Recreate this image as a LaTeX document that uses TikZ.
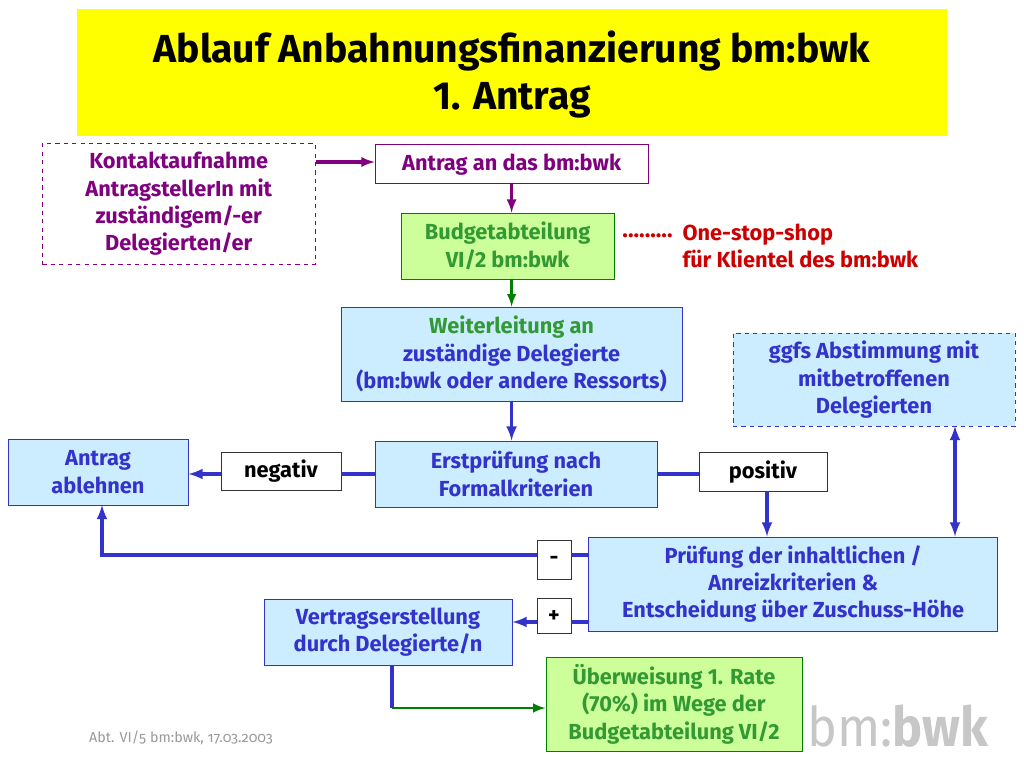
\documentclass[tikz,border=0pt]{standalone}
\usepackage{fontspec}
\setmainfont{Fira Sans}
\newfontfamily\footfont[Numbers=OldStyle]{Fira Sans}
\newfontfamily\logofont[FakeStretch=0.92]{Fira Sans}
\usetikzlibrary{arrows}
\definecolor{dyellow}{HTML}{FFFF00}
\definecolor{dblue}{HTML}{3333CC}
\definecolor{lblue}{HTML}{CCECFF}
\definecolor{dgreen}{HTML}{008000}
\definecolor{tgreen}{HTML}{339933}
\definecolor{lgreen}{HTML}{CCFF99}
\definecolor{dpurple}{HTML}{800080}
\definecolor{dred}{HTML}{CC0000}
\tikzstyle{plain} = [rectangle, inner sep=0pt, align=center, font=\fontsize{15.5}{19.5}\selectfont\bfseries, line width=0.7pt]
\tikzstyle{bluebox} = [plain, draw=dblue, fill=lblue, text=dblue]
\tikzstyle{greenbox} = [plain, draw=dgreen, fill=lgreen, text=tgreen]
\tikzstyle{purplebox} = [plain, draw=dpurple, fill=white, text=dpurple]
\tikzstyle{labelbox} = [plain, draw=black!80, fill=white, text=black]
\tikzstyle{blueline} = [draw=dblue, line width=2.4pt]
\tikzstyle{greenline} = [draw=dgreen, line width=2pt]
\tikzstyle{purpleline} = [draw=dpurple, line width=2.2pt]

\begin{document}
\begin{tikzpicture}
    \useasboundingbox (0,0) rectangle (25.6,-19.2);
    % title
    \node[rectangle, fill=dyellow, minimum width=21.75cm, minimum height=3.175cm] (title) at (12.8,-1.8125) {};
    \node[align=center, inner sep=0pt, font=\fontsize{27.8}{33.4}\selectfont\bfseries] (titletext) at (12.8,-1.87) {Ablauf Anbahnungsfinanzierung bm:bwk\\1. Antrag};
    % boxes
    \node[purplebox, dashed, minimum width=6.82cm, minimum height=3.025cm] (kontakt) at (4.47,-5.1) {Kontaktaufnahme\\AntragstellerIn mit\\zuständigem/-er\\Delegierten/er};
    \node[purplebox, minimum width=6.825cm, minimum height=0.975cm] (antrag) at (12.79,-4.11) {Antrag an das bm:bwk};
    \node[greenbox, minimum width=5.325cm, minimum height=1.65cm] (budget) at (12.69,-6.15) {Budgetabteilung\\VI/2 bm:bwk};
    \node[bluebox, minimum width=8.525cm, minimum height=2.35cm] (weiter) at (12.79,-8.85) {\textcolor{tgreen}{Weiterleitung an}\\zuständige Delegierte\\(bm:bwk oder andere Ressorts)};
    \node[bluebox, dashed, minimum width=7.05cm, minimum height=2.325cm] (ggfs) at (21.85,-9.49) {ggfs Abstimmung mit\\mitbetroffenen\\Delegierten};
    \node[bluebox, minimum width=7.05cm, minimum height=1.65cm] (erst) at (12.9,-11.85) {Erstprüfung nach\\Formalkriterien};
    \node[bluebox, minimum width=4.5cm, minimum height=1.65cm] (ablehnen) at (2.45,-11.8) {Antrag\\ablehnen};
    \node[labelbox, minimum width=3cm, minimum height=0.95cm] (negativ) at (7.025,-11.775) {negativ};
    \node[labelbox, minimum width=3.2cm, minimum height=0.975cm] (positiv) at (19.075,-11.79) {positiv};
    \node[labelbox, minimum width=0.85cm, minimum height=0.975cm] (minus) at (13.85,-14.01) {-};
    \node[labelbox, minimum width=0.85cm, minimum height=0.875cm] (plus) at (13.85,-15.41) {+};
    \node[bluebox, minimum width=10.225cm, minimum height=2.35cm] (pruefung) at (19.83,-14.6) {Prüfung der inhaltlichen /\\Anreizkriterien \&\\Entscheidung über Zuschuss-Höhe};
    \node[bluebox, minimum width=6.2cm, minimum height=1.65cm] (vertrag) at (9.7,-15.8) {Vertragserstellung\\durch Delegierte/n};
    \node[greenbox, minimum width=6.4cm, minimum height=2.35cm] (ueber) at (16.85,-17.6) {Überweisung 1. Rate\\(70\%) im Wege der\\Budgetabteilung VI/2};
    % side notes
    \node[plain, text=dred, anchor=west, font=\fontsize{16.5}{19.5}\selectfont\bfseries] (dots) at (15.55,-5.9) {.........};
    \node[plain, text=dred, align=left, anchor=west] (shop) at (17.05,-6.15) {One-stop-shop\\für Klientel des bm:bwk};
    \node[anchor=west, inner sep=0pt, text=black!40, font=\footfont\fontsize{10.2}{12}\selectfont] (foot) at (2.22,-18.45) {Abt. VI/5 bm:bwk, 17.03.2003};
    \node[anchor=west, inner sep=0pt, text=black!22, font=\logofont\fontsize{39}{44}\selectfont] (logo) at (20.18,-18.15) {bm:\textbf{bwk}};
    % connector ends
    \coordinate (kontaktout) at (7.9,-4.05);
    \coordinate (positivout) at (19.175,-12.275);
    \coordinate (abstimm) at (23.875,-10.65);
    \coordinate (pruefminus) at (14.7,-13.875);
    \coordinate (pruefplus) at (14.7,-15.55);
    \coordinate (ablehnenin) at (2.55,-12.625);
    \coordinate (vertragout) at (9.8,-16.625);
    \coordinate (knick) at (9.8,-17.7);
    \begin{scope}[-latex]
        \draw[purpleline] (kontaktout) -- (kontaktout -| antrag.west);
        \draw[purpleline] (antrag.south) -- (antrag.south |- budget.north);
        \draw[greenline] (antrag.south |- budget.south) -- (antrag.south |- weiter.north);
        \draw[blueline] (weiter.south) -- (weiter.south |- erst.north);
        \draw[blueline] (negativ.west |- erst.west) -- (ablehnen.east |- erst.west);
        \draw[blueline] (positivout) -- (positivout |- pruefung.north);
        \draw[blueline, latex-latex] (abstimm) -- (abstimm |- pruefung.north);
        \draw[blueline] (pruefminus -| minus.west) -| (ablehnenin);
        \draw[blueline] (pruefplus -| plus.west) -- (pruefplus -| vertrag.east);
        \draw[greenline] (knick) -- (knick -| ueber.west);
    \end{scope}
    \draw[blueline] (erst.west) -- (erst.west -| negativ.east);
    \draw[blueline] (erst.east) -- (erst.east -| positiv.west);
    \draw[blueline] (pruefminus) -- (pruefminus -| minus.east);
    \draw[blueline] (pruefplus) -- (pruefplus -| plus.east);
    \draw[blueline] (vertragout) -- (knick);
\end{tikzpicture}
\end{document}
